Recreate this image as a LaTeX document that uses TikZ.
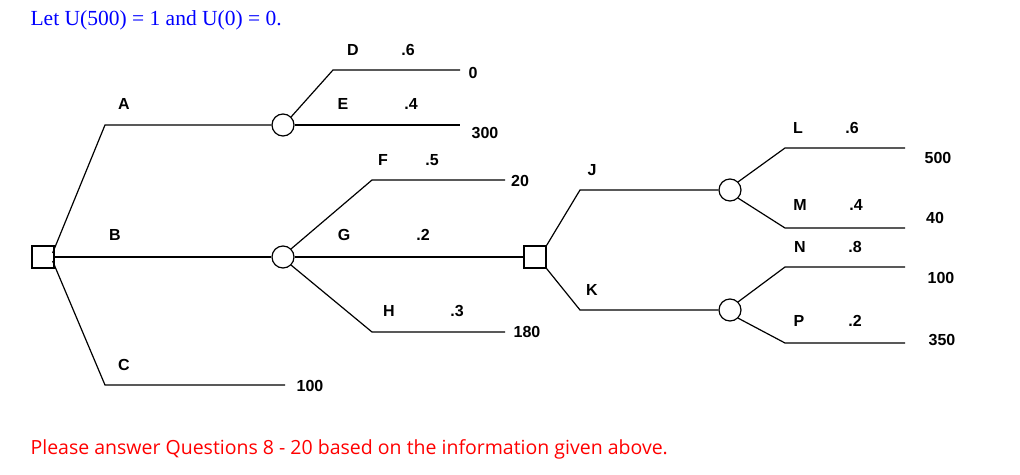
\documentclass[tikz,border=0pt]{standalone}
\usepackage{fontspec}
\setmainfont{Liberation Serif}
\newfontfamily\lab{Liberation Sans}
\newfontfamily\note{Open Sans}
\begin{document}
\begin{tikzpicture}[x=1pt,y=-1pt,line width=1.2pt,
  dec/.style={draw,minimum size=22pt,inner sep=0pt},
  chn/.style={draw,circle,minimum size=22pt,inner sep=0pt},
  lb/.style={font=\lab\bfseries\fontsize{16}{18}\selectfont,inner sep=0pt}]
\useasboundingbox (0,0) rectangle (1020,474);
\node[anchor=west,text=blue,font=\fontsize{21.5}{24}\selectfont,inner sep=0pt] (t) at (30,20) {Let U(500) = 1 and U(0) = 0.};
\node[anchor=west,text=red,font=\note\fontsize{19.5}{22}\selectfont,inner sep=0pt] (n) at (30,449) {Please answer Questions 8 - 20 based on the information given above.};
% nodes
\node[dec] (s1) at (43,257) {};
\node[chn] (c1) at (283,125) {};
\node[chn] (c2) at (283,257) {};
\node[dec] (s2) at (535,257) {};
\node[chn] (c3) at (730,190) {};
\node[chn] (c4) at (730,310) {};
\coordinate (a1) at (105,125);
\coordinate (cc1) at (105,385); \coordinate (cc2) at (285,385);
\coordinate (d1) at (333,70); \coordinate (d2) at (460,70);
\coordinate (e2) at (460,125);
\coordinate (f1) at (372,180); \coordinate (f2) at (505,180);
\coordinate (h1) at (372,332); \coordinate (h2) at (505,332);
\coordinate (j1) at (580,190);
\coordinate (k1) at (580,310);
\coordinate (l1) at (785,148); \coordinate (l2) at (905,148);
\coordinate (m1) at (785,228); \coordinate (m2) at (905,228);
\coordinate (n1) at (785,267); \coordinate (n2) at (905,267);
\coordinate (p1) at (785,343); \coordinate (p2) at (905,343);
% connectors
\draw (s1.east) ++(-2,-4) -- (a1) -- (c1.west);
\draw (s1.east) -- (c2.west);
\draw (s1.east) ++(-2,4) -- (cc1) -- (cc2);
\draw (c1.north east) -- (d1) -- (d2);
\draw (c1.east) -- (e2);
\draw (c2.north east) -- (f1) -- (f2);
\draw (c2.east) -- (s2.west);
\draw (c2.south east) -- (h1) -- (h2);
\draw (s2.north east) -- (j1) -- (c3.west);
\draw (s2.south east) -- (k1) -- (c4.west);
\draw (c3.north east) -- (l1) -- (l2);
\draw (c3.south east) -- (m1) -- (m2);
\draw (c4.north east) -- (n1) -- (n2);
\draw (c4.south east) -- (p1) -- (p2);
% labels
\node[lb] at (124,104) {A};
\node[lb] at (115,235) {B};
\node[lb] at (124,365) {C};
\node[lb] at (353,50) {D}; \node[lb] at (408,50) {.6}; \node[lb] at (473,73) {0};
\node[lb] at (343,104) {E}; \node[lb] at (411,104) {.4}; \node[lb] at (485,133) {300};
\node[lb] at (310,386) {100};
\node[lb] at (383,160) {F}; \node[lb] at (432,160) {.5}; \node[lb] at (520,181) {20};
\node[lb] at (344,235) {G}; \node[lb] at (423,235) {.2};
\node[lb] at (389,311) {H}; \node[lb] at (457,311) {.3}; \node[lb] at (527,332) {180};
\node[lb] at (592,170) {J};
\node[lb] at (592,290) {K};
\node[lb] at (798,128) {L}; \node[lb] at (852,128) {.6}; \node[lb] at (938,158) {500};
\node[lb] at (800,205) {M}; \node[lb] at (856,205) {.4}; \node[lb] at (935,218) {40};
\node[lb] at (800,247) {N}; \node[lb] at (855,247) {.8}; \node[lb] at (941,278) {100};
\node[lb] at (799,321) {P}; \node[lb] at (855,321) {.2}; \node[lb] at (942,340) {350};
\end{tikzpicture}
\end{document}
